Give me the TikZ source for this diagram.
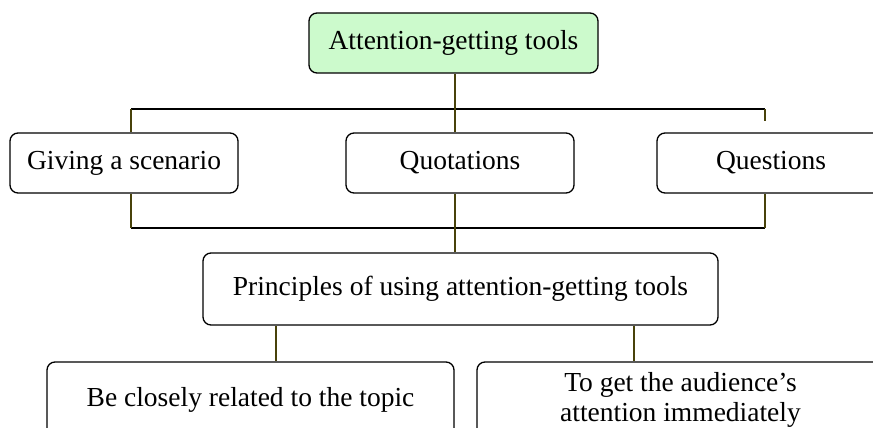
\documentclass[tikz,border=0pt]{standalone}
\usepackage{fontspec}
\setmainfont{Liberation Serif}
\definecolor{topgreen}{RGB}{204,250,204}
\definecolor{stemcol}{RGB}{72,66,10}
\begin{document}
\begin{tikzpicture}[x=1pt,y=-1pt,
  box/.style={draw=black, line width=1.3pt, rounded corners=8pt, fill=white,
    align=center, inner sep=0pt, font=\fontsize{27.5}{30}\selectfont},
  bar/.style={line width=1.8pt, draw=black},
  stem/.style={line width=1.8pt, draw=stemcol}]
\useasboundingbox (0,0) rectangle (873,428);

% boxes
\node[box, fill=topgreen, minimum width=289pt, minimum height=60pt] (top) at (453.5,43) {Attention-getting tools};
\node[box, minimum width=228pt, minimum height=60pt] (gs) at (124,163) {Giving a scenario};
\node[box, minimum width=228pt, minimum height=60pt] (quo) at (460,163) {Quotations};
\node[box, minimum width=228pt, minimum height=60pt] (que) at (771,163) {Questions};
\node[box, minimum width=515pt, minimum height=72pt] (pri) at (460.5,289) {Principles of using attention-getting tools};
\node[box, minimum width=407pt, minimum height=76pt] (b1) at (250.5,400) {Be closely related to the topic};
\node[box, minimum width=407pt, minimum height=76pt] (b2) at (680.5,400) {To get the audience’s\\attention immediately};

% junction points
\coordinate (barL) at (131,109);
\coordinate (barR) at (765,109);
\coordinate (lowL) at (131,228);
\coordinate (lowR) at (765,228);
\coordinate (qtip) at (765,121);
\coordinate (mid) at (455,0);
\coordinate (s1) at (276,0);
\coordinate (s2) at (634,0);

% horizontal bars
\draw[bar] (barL) -- (barR);
\draw[bar] (lowL) -- (lowR);

% vertical stems
\draw[stem] (top.south -| mid) -- (barL -| mid) -- (quo.north -| mid);
\draw[stem] (barL) -- (barL |- gs.north);
\draw[stem] (barR) -- (qtip);
\draw[stem] (gs.south -| lowL) -- (lowL);
\draw[stem] (que.south -| lowR) -- (lowR);
\draw[stem] (quo.south -| mid) -- (pri.north -| mid);
\draw[stem] (pri.south -| s1) -- (b1.north -| s1);
\draw[stem] (pri.south -| s2) -- (b2.north -| s2);
\end{tikzpicture}
\end{document}
